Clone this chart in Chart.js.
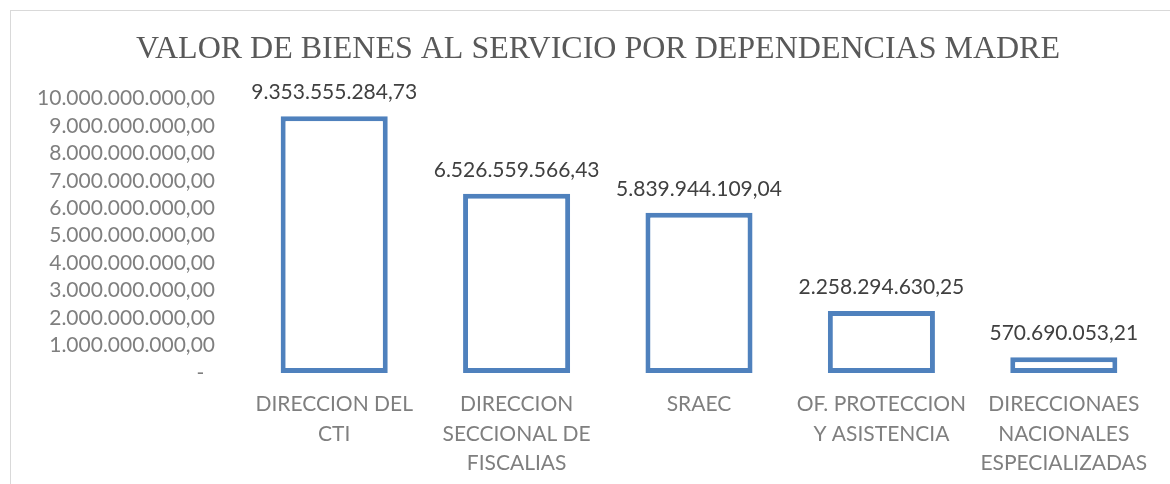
<!DOCTYPE html>
<html>
<head>
<meta charset="utf-8">
<script src="https://cdn.jsdelivr.net/npm/chart.js@4/dist/chart.umd.min.js"></script>
<style>
  html, body { margin: 0; padding: 0; background: #fff; overflow: hidden; }
  #box {
    position: absolute; left: 10px; top: 10px;
    width: 1180px; height: 480px;
    border: 1px solid #d9d9d9;
  }
</style>
</head>
<body>
<div id="box"><canvas id="chart" width="1180" height="480"></canvas></div>
<script>
const categories = [
    ['DIRECCION DEL', 'CTI'],
    ['DIRECCION', 'SECCIONAL DE', 'FISCALIAS'],
    ['SRAEC'],
    ['OF. PROTECCION', 'Y ASISTENCIA'],
    ['DIRECCIONAES', 'NACIONALES', 'ESPECIALIZADAS']
];
const values = [9353555284.73, 6526559566.43, 5839944109.04, 2258294630.25, 570690053.21];
const yMax = 10000000000;
const yStep = 1000000000;

const fmt = new Intl.NumberFormat('de-DE', { minimumFractionDigits: 2, maximumFractionDigits: 2 });

// value labels above each bar
const valueLabels = {
    id: 'valueLabels',
    afterDatasetsDraw(chart) {
        const ctx = chart.ctx;
        const meta = chart.getDatasetMeta(0);
        ctx.save();
        ctx.font = '21px Lato';
        ctx.fillStyle = '#404040';
        ctx.textAlign = 'center';
        ctx.textBaseline = 'alphabetic';
        meta.data.forEach((bar, i) => {
            ctx.fillText(fmt.format(values[i]), bar.x, bar.y - 17);
        });
        ctx.restore();
    }
};

new Chart(document.getElementById('chart').getContext('2d'), {
    type: 'bar',
    data: {
        labels: categories,
        datasets: [{
            data: values,
            backgroundColor: '#ffffff',
            borderColor: '#4f81bd',
            borderWidth: 5,
            borderSkipped: false,
            barPercentage: 0.587,
            categoryPercentage: 1
        }]
    },
    options: {
        responsive: false,
        animation: false,
        layout: { padding: { left: 0, right: 6, top: 0, bottom: 0 } },
        scales: {
            x: {
                grid: { display: false, drawTicks: false },
                border: { display: false },
                ticks: {
                    color: '#7f7f7f',
                    font: { family: 'Lato', size: 21, lineHeight: 1.4 },
                    padding: 17,
                    maxRotation: 0,
                    autoSkip: false
                },
                afterFit: s => { s.height = 118; }
            },
            y: {
                min: 0,
                max: yMax,
                grid: { display: false, drawTicks: false },
                border: { display: false },
                ticks: {
                    stepSize: yStep,
                    autoSkip: false,
                    color: '#7f7f7f',
                    font: { family: 'Lato', size: 21 },
                    padding: 28,
                    callback: v => v === 0 ? '-  ' : fmt.format(v)
                },
                afterFit: s => { s.width = 232; }
            },
            // empty right-hand spacer so the plot ends where the original does
            yRight: {
                position: 'right',
                grid: { display: false, drawTicks: false },
                border: { display: false },
                ticks: { display: false },
                afterFit: s => { s.width = 30; }
            }
        },
        plugins: {
            legend: { display: false },
            tooltip: { enabled: false },
            title: {
                display: true,
                text: 'VALOR DE BIENES AL SERVICIO POR DEPENDENCIAS MADRE',
                color: '#595959',
                font: { family: 'Liberation Serif', size: 32, weight: 'normal', lineHeight: 1.2 },
                padding: { top: 19, bottom: 30 }
            }
        }
    },
    plugins: [valueLabels]
});
</script>
</body>
</html>
